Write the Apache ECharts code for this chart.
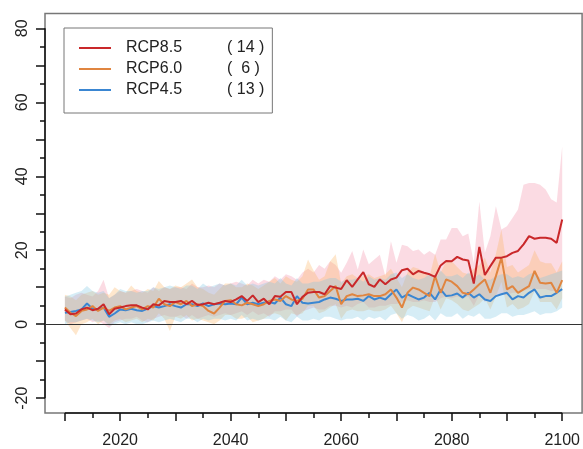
<!DOCTYPE html>
<html><head><meta charset="utf-8">
<script src="https://cdn.jsdelivr.net/npm/echarts@6/dist/echarts.min.js"></script>
<style>html,body{margin:0;padding:0;background:#fff}#c{width:583px;height:449px}</style>
</head><body><div id="c"></div>
<script>
const years = [2010,2011,2012,2013,2014,2015,2016,2017,2018,2019,
2020,2021,2022,2023,2024,2025,2026,2027,2028,2029,
2030,2031,2032,2033,2034,2035,2036,2037,2038,2039,
2040,2041,2042,2043,2044,2045,2046,2047,2048,2049,
2050,2051,2052,2053,2054,2055,2056,2057,2058,2059,
2060,2061,2062,2063,2064,2065,2066,2067,2068,2069,
2070,2071,2072,2073,2074,2075,2076,2077,2078,2079,
2080,2081,2082,2083,2084,2085,2086,2087,2088,2089,
2090,2091,2092,2093,2094,2095,2096,2097,2098,2099,2100];

const rcp85Mean = [4.0,2.7,2.9,4.0,4.5,3.8,4.2,5.4,2.7,4.2,
4.5,4.9,5.1,5.1,4.5,4.0,5.4,5.1,6.3,6.0,
6.0,6.3,5.4,6.3,5.2,5.4,5.8,5.4,5.8,6.3,
6.0,6.7,7.6,6.3,7.8,6.0,6.9,5.4,7.6,7.4,
8.7,8.7,5.4,7.4,8.5,8.7,8.7,8.1,10.3,9.9,
9.5,11.9,10.1,12.1,14.1,10.8,10.1,12.1,10.8,12.1,
12.6,14.6,15.0,13.5,14.4,13.9,13.5,12.8,15.9,17.1,
17.0,18.2,17.5,17.2,11.0,20.9,13.3,15.7,18.0,18.0,
18.4,19.3,19.8,21.6,23.8,23.1,23.4,23.4,23.1,22.0,28.3];
const rcp85Upper = [7.5,7.0,8.0,8.5,8.0,7.5,9.0,12.0,7.0,8.0,
9.0,8.5,9.0,9.5,9.0,8.5,10.0,9.0,10.0,9.5,
10.0,10.0,9.5,11.0,10.0,10.0,10.5,10.0,11.0,10.5,
11.0,11.5,11.0,10.5,12.0,11.0,12.0,11.5,13.0,12.0,
13.5,13.0,12.0,14.0,15.0,14.0,16.0,15.0,17.0,16.0,
13.9,16.6,19.8,14.8,20.2,16.2,17.5,18.8,13.0,22.4,
16.6,21.5,21.1,19.8,20.2,18.8,19.8,18.8,22.9,22.9,
26.0,26.0,23.8,24.5,16.6,33.2,19.3,23.8,31.9,25.6,
26.5,28.7,31.0,37.7,38.2,38.2,37.7,36.4,33.8,32.9,48.1];
const rcp85Lower = [1.0,0.0,0.5,1.0,1.5,0.5,1.0,0.0,-1.0,0.5,
1.0,1.5,1.5,2.0,1.0,0.5,1.5,2.0,2.5,2.0,
2.0,2.5,1.5,2.5,1.5,2.0,2.5,2.0,2.5,3.0,
2.5,3.0,3.5,2.5,3.5,2.5,3.0,2.0,3.5,3.5,
4.0,4.0,2.0,3.5,4.0,4.5,4.0,4.0,5.0,5.0,
4.5,5.0,4.5,5.5,6.0,4.5,4.5,5.0,5.0,5.5,
5.5,6.0,6.5,6.0,6.0,6.5,6.0,6.0,7.0,7.5,
7.0,7.5,7.0,7.5,5.0,8.0,6.0,7.0,8.0,8.0,
8.0,8.5,8.5,9.0,9.5,9.5,9.5,9.5,9.0,9.0,12.0];

const rcp60Mean = [4.5,3.1,2.2,3.6,4.0,4.9,3.6,4.5,3.6,4.5,
4.9,4.0,4.5,4.9,4.0,4.9,4.5,6.9,5.4,4.9,
6.0,5.4,6.3,4.9,5.4,4.9,3.6,2.9,4.5,6.3,
6.5,5.4,5.1,5.8,5.4,4.9,5.4,6.3,6.7,6.3,
7.6,6.7,6.3,6.9,9.4,9.4,7.2,7.6,9.0,10.3,
5.4,7.6,8.1,7.6,7.8,8.1,7.6,7.6,8.1,9.4,
7.2,4.5,8.5,9.9,9.4,8.5,7.6,13.0,8.5,12.1,
11.5,10.3,8.5,8.1,9.4,10.8,12.1,8.5,13.0,18.0,
9.4,10.3,8.5,9.4,10.3,14.4,11.2,11.0,11.2,8.5,11.9];
const rcp60Upper = [8.0,7.5,6.5,8.0,8.5,9.0,8.0,8.5,8.0,10.0,
9.0,8.5,10.5,9.0,8.5,9.5,9.0,11.7,10.0,9.5,
10.5,10.0,11.0,12.1,10.0,9.5,8.5,8.0,9.5,11.0,
11.0,10.0,10.0,11.0,10.5,9.5,10.5,11.5,12.5,11.0,
13.0,12.0,11.5,13.0,17.5,14.5,12.0,13.0,17.0,18.9,
11.0,13.0,13.5,12.5,13.0,13.5,12.5,13.0,13.5,15.0,
12.5,10.0,14.0,15.5,15.0,14.0,13.0,19.0,14.0,17.0,
17.0,15.5,14.0,13.5,15.0,16.0,18.0,14.0,19.0,25.6,
15.5,16.0,14.0,15.0,16.0,20.0,17.0,16.5,16.5,14.0,17.0];
const rcp60Lower = [1.0,-1.0,-3.0,0.0,0.5,1.5,0.0,1.0,0.0,1.0,
1.5,0.5,1.0,1.5,0.5,1.5,1.0,3.0,1.5,-1.8,
2.0,1.5,2.5,1.0,1.5,1.0,0.5,0.0,1.0,2.5,
2.5,1.5,1.5,2.0,0.5,1.0,1.5,2.5,3.0,2.5,
1.0,3.0,2.5,3.0,5.0,5.0,3.0,3.5,4.5,5.5,
1.5,3.5,4.0,3.5,3.5,4.0,3.5,3.5,4.0,5.0,
3.0,0.5,4.0,5.0,4.5,4.0,3.5,7.5,4.0,7.0,
6.5,5.5,4.0,3.5,4.5,5.5,7.0,4.0,7.5,11.5,
4.5,5.5,4.0,4.5,5.5,9.0,6.0,6.0,6.0,4.0,7.0];

const rcp45Mean = [3.1,3.3,3.6,4.0,5.6,4.2,4.0,4.5,2.0,2.9,
4.0,3.8,4.2,3.8,3.6,4.2,4.9,4.5,4.9,5.4,
4.9,4.5,5.4,5.4,4.9,5.6,4.9,5.4,5.6,5.4,
5.6,5.4,7.2,5.4,5.8,5.4,5.8,6.0,5.6,7.2,
5.4,4.9,7.6,5.8,5.6,5.8,6.0,6.7,7.2,6.9,
6.3,6.7,6.7,6.9,6.3,7.6,6.7,7.2,6.7,8.1,
9.4,7.2,8.1,7.4,6.7,7.2,8.5,6.7,9.4,7.6,
7.8,8.3,7.2,8.5,7.2,8.1,6.7,6.3,7.6,8.1,
8.5,6.7,7.6,7.2,8.5,9.4,7.2,7.6,7.6,8.5,9.5];
const rcp45Upper = [7.5,8.0,8.5,9.0,10.3,9.0,8.5,9.0,7.0,8.0,
9.5,9.0,9.0,8.5,9.0,9.0,10.0,9.5,10.0,10.5,
10.0,9.5,10.5,10.5,9.5,11.0,10.0,10.5,11.0,10.5,
11.0,10.5,12.0,10.5,11.0,10.5,11.0,11.5,11.0,12.5,
11.0,10.5,12.5,11.0,11.0,11.5,11.5,12.0,12.5,12.5,
11.5,12.0,12.0,12.5,11.5,13.0,12.0,12.5,12.0,13.5,
14.0,12.5,13.5,12.5,12.0,12.5,13.5,12.0,14.5,13.0,
13.0,13.5,12.5,14.0,12.5,13.5,12.0,12.0,13.0,13.5,
13.5,12.5,13.0,12.5,13.5,14.0,12.5,13.0,13.5,14.0,14.5];
const rcp45Lower = [0.0,0.5,0.5,1.0,1.5,1.0,0.5,1.0,-0.5,0.0,
0.5,0.0,0.5,0.0,0.0,0.5,1.0,0.5,1.0,1.5,
1.0,0.5,1.5,1.5,0.5,1.5,1.0,1.5,1.5,1.0,
1.5,1.0,2.5,1.0,1.5,1.0,1.5,1.5,1.0,2.0,
1.0,0.5,2.0,1.0,1.0,1.5,1.0,2.0,2.0,1.5,
1.0,1.5,1.5,2.0,1.0,2.0,1.5,2.0,1.0,2.5,
3.0,1.5,2.5,2.0,1.0,1.5,2.5,1.0,3.0,2.0,
2.0,3.0,1.5,2.5,2.0,3.0,1.5,1.5,2.0,3.0,
3.0,2.0,2.5,2.5,3.0,3.5,2.5,3.0,3.0,3.5,4.5];

const seriesNames = ['RCP8.5', 'RCP6.0', 'RCP4.5'];
const modelCounts = [14, 6, 13];
const xMajorTicks = [2010,2020,2030,2040,2050,2060,2070,2080,2090,2100];
const xMinorTicks = [2015,2025,2035,2045,2055,2065,2075,2085,2095];
const xTickLabels = [2020,2040,2060,2080,2100];
const yMajorTicks = [-20,-10,0,10,20,30,40,50,60,70,80];
const yMinorTicks = [-15,-5,5,15,25,35,45,55,65,75];
const yTickLabels = [-20,0,20,40,60,80];
const xRange = [2006.4, 2103.6];
const yRange = [-24, 84];

const lineColors = ['#c9282a', '#e08540', '#3a86d2'];
const bandColors = ['rgba(240,125,155,0.28)', 'rgba(252,175,90,0.30)', 'rgba(120,195,225,0.30)'];
const means = [rcp85Mean, rcp60Mean, rcp45Mean];
const uppers = [rcp85Upper, rcp60Upper, rcp45Upper];
const lowers = [rcp85Lower, rcp60Lower, rcp45Lower];

const font = "'Liberation Sans', Arial, Helvetica, sans-serif";
const series = [];
for (let s = 0; s < 3; s++) {
  const up = uppers[s], lo = lowers[s], fill = bandColors[s];
  series.push({
    name: 'band-' + s, type: 'custom', silent: true, z: 1,
    data: [0],
    renderItem: function (params, api) {
      const pts = [];
      for (let i = 0; i < years.length; i++) pts.push(api.coord([years[i], up[i]]));
      for (let i = years.length - 1; i >= 0; i--) pts.push(api.coord([years[i], lo[i]]));
      return { type: 'polygon', shape: { points: pts }, style: { fill: fill } };
    }
  });
}
for (let s = 2; s >= 0; s--) {
  series.push({
    name: seriesNames[s], type: 'line',
    data: years.map((y, i) => [y, means[s][i]]),
    symbol: 'none', color: lineColors[s],
    lineStyle: { width: 2, color: lineColors[s] }, z: 3 + (2 - s)
  });
}
series.push({
  name: 'axes', type: 'line', data: [[xRange[0], yRange[0]]], symbol: 'none', clip: false, silent: true, z: 10,
  markLine: {
    silent: true, symbol: 'none', label: { show: false },
    lineStyle: { color: '#111', width: 1.5, type: 'solid' },
    data: [
      [{ coord: [xMajorTicks[0], yRange[0]] }, { coord: [xMajorTicks[xMajorTicks.length - 1], yRange[0]] }],
      [{ coord: [xRange[0], yMajorTicks[0]] }, { coord: [xRange[0], yMajorTicks[yMajorTicks.length - 1]] }],
      [{ coord: [xRange[0], 0], lineStyle: { color: '#333', width: 1.2 } }, { coord: [xRange[1], 0] }]
    ]
  }
});

const chart = echarts.init(document.getElementById('c'), null, { renderer: 'canvas' });
chart.setOption({
  animation: false,
  backgroundColor: '#fff',
  grid: { left: 45, top: 13.5, width: 539.3, height: 400.4, show: true, borderColor: '#777', borderWidth: 1.5, backgroundColor: 'transparent' },
  xAxis: [
    { type: 'value', min: xRange[0], max: xRange[1], position: 'bottom',
      axisLine: { show: false, onZero: false }, splitLine: { show: false },
      axisTick: { show: true, length: 8, lineStyle: { color: '#111', width: 1.5 }, customValues: xMajorTicks },
      axisLabel: { show: true, margin: 20, fontSize: 16, color: '#222', fontFamily: font, customValues: xTickLabels,
        formatter: v => String(v) } },
    { type: 'value', min: xRange[0], max: xRange[1], position: 'bottom',
      axisLine: { show: false, onZero: false }, splitLine: { show: false },
      axisTick: { show: true, length: 5, lineStyle: { color: '#111', width: 1.5 }, customValues: xMinorTicks },
      axisLabel: { show: false } }
  ],
  yAxis: [
    { type: 'value', min: yRange[0], max: yRange[1], position: 'left',
      axisLine: { show: false, onZero: false }, splitLine: { show: false },
      axisTick: { show: true, length: 9, lineStyle: { color: '#111', width: 1.5 }, customValues: yMajorTicks },
      axisLabel: { show: true, rotate: 90, margin: 14, fontSize: 16, color: '#222', fontFamily: font, customValues: yTickLabels } },
    { type: 'value', min: yRange[0], max: yRange[1], position: 'left',
      axisLine: { show: false, onZero: false }, splitLine: { show: false },
      axisTick: { show: true, length: 5, lineStyle: { color: '#111', width: 1.5 }, customValues: yMinorTicks },
      axisLabel: { show: false } }
  ],
  legend: {
    data: seriesNames, orient: 'vertical', left: 64, top: 28,
    padding: [12, 8, 15, 15], itemGap: 5, itemWidth: 32, itemHeight: 2, icon: 'rect',
    borderColor: '#777', borderWidth: 1, backgroundColor: '#fff',
    selectedMode: false,
    textStyle: {
      fontFamily: font, fontSize: 16, color: '#222',
      rich: {
        a: { fontFamily: font, fontSize: 16, color: '#222', width: 101, padding: [0, 0, 0, 10] },
        b: { fontFamily: font, fontSize: 16, color: '#222' }
      }
    },
    formatter: function (name) {
      const n = modelCounts[seriesNames.indexOf(name)];
      const txt = n < 10 ? '(  ' + n + ' )' : '( ' + n + ' )';
      return '{a|' + name + '}{b|' + txt + '}';
    }
  },
  series: series
});
</script></body></html>
